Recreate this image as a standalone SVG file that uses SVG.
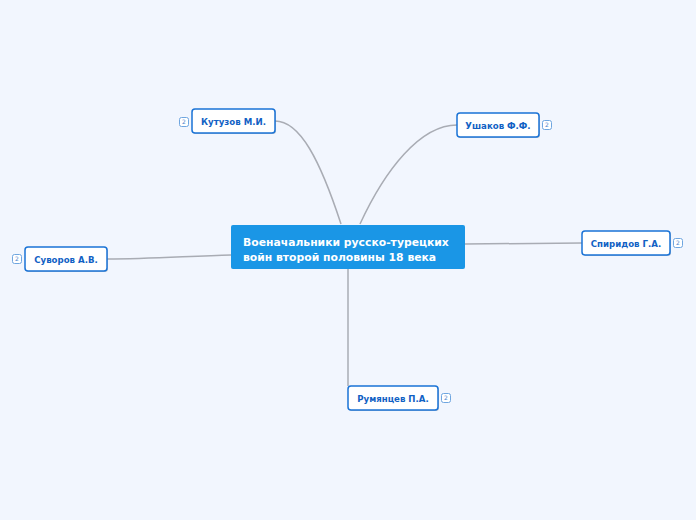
<svg xmlns="http://www.w3.org/2000/svg" width="696" height="520" viewBox="0 0 696 520">
<defs>
<style>
.bg{fill:#f2f6fe}
.conn{fill:none;stroke:#a9acb4;stroke-width:1.5}
.box{fill:#ffffff;stroke:#1a73d6;stroke-width:1.5}
.shadow{fill:#5a6a80;opacity:0.35}
.lbl{font-family:"DejaVu Sans",Verdana,sans-serif;font-weight:bold;font-size:8.6px;fill:#1161c4;text-anchor:middle}
.main{fill:#1a96e6}
.mlbl{font-family:"DejaVu Sans",Verdana,sans-serif;font-weight:bold;font-size:10.8px;fill:#ffffff}
.badge{fill:#ffffff;stroke:#6fa6e0;stroke-width:1}
.blbl{font-family:"DejaVu Sans",Verdana,sans-serif;font-size:6px;fill:#4a86cc;text-anchor:middle}
</style>
</defs>
<rect class="bg" x="0" y="0" width="696" height="520"/>
<g id="connectors">
<path class="conn" d="M275,121 C300,121 320,160 341,224"/>
<path class="conn" d="M457,125 C420,125 385,170 360,224"/>
<path class="conn" d="M107,259 C150,259 190,256 231,255"/>
<path class="conn" d="M582,243 C540,243 500,244 465,244"/>
<path class="conn" d="M348,386 L348,269"/>
</g>
<g id="central">
<rect class="main" x="231" y="225" width="234" height="44" rx="2"/>
<text class="mlbl" x="243" y="246">Военачальники русско-турецких</text>
<text class="mlbl" x="243" y="261">войн второй половины 18 века</text>
</g>
<g id="kutuzov">
<rect class="shadow" x="193" y="110" width="83" height="24" rx="3"/>
<rect class="box" x="192" y="109" width="83" height="24" rx="3"/>
<text class="lbl" x="233.5" y="124.5">Кутузов М.И.</text>
<rect class="badge" x="179.5" y="117.5" width="9" height="9" rx="2"/>
<text class="blbl" x="184" y="124">2</text>
</g>
<g id="ushakov">
<rect class="shadow" x="458" y="114" width="82" height="24" rx="3"/>
<rect class="box" x="457" y="113" width="82" height="24" rx="3"/>
<text class="lbl" x="498" y="128.5">Ушаков Ф.Ф.</text>
<rect class="badge" x="542.5" y="120.5" width="9" height="9" rx="2"/>
<text class="blbl" x="547" y="127">2</text>
</g>
<g id="suvorov">
<rect class="shadow" x="26" y="248" width="82" height="24" rx="3"/>
<rect class="box" x="25" y="247" width="82" height="24" rx="3"/>
<text class="lbl" x="66" y="262.5">Суворов А.В.</text>
<rect class="badge" x="12.5" y="254.5" width="9" height="9" rx="2"/>
<text class="blbl" x="17" y="261">2</text>
</g>
<g id="spiridov">
<rect class="shadow" x="583" y="232" width="88" height="24" rx="3"/>
<rect class="box" x="582" y="231" width="88" height="24" rx="3"/>
<text class="lbl" x="626" y="246.5">Спиридов Г.А.</text>
<rect class="badge" x="673.5" y="238.5" width="9" height="9" rx="2"/>
<text class="blbl" x="678" y="245">2</text>
</g>
<g id="rumyantsev">
<rect class="shadow" x="349" y="387" width="90" height="24" rx="3"/>
<rect class="box" x="348" y="386" width="90" height="24" rx="3"/>
<text class="lbl" x="393" y="401.5">Румянцев П.А.</text>
<rect class="badge" x="441.5" y="393.5" width="9" height="9" rx="2"/>
<text class="blbl" x="446" y="400">2</text>
</g>
</svg>
